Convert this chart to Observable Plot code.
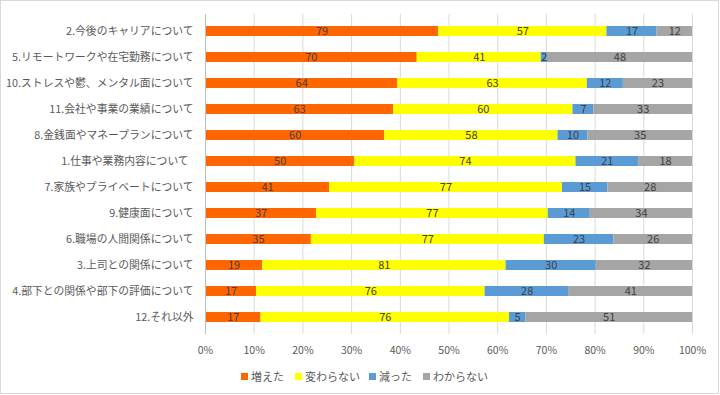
<!DOCTYPE html>
<html>
<head>
<meta charset="utf-8">
<script src="https://cdn.jsdelivr.net/npm/d3@7"></script>
<script src="https://cdn.jsdelivr.net/npm/@observablehq/plot@0.6"></script>
<style>
  html, body { margin: 0; padding: 0; background: #fff; }
  #wrap { position: relative; width: 720px; height: 395px; overflow: hidden; font-family: "Noto Sans CJK JP", "Noto Sans", sans-serif; }
  #frame { position: absolute; left: 0px; top: 0px; width: 719px; height: 394px; border: 1.5px solid #d9d9d9; pointer-events: none; box-sizing: border-box; }
  #legend { position: absolute; top: 368px; left: 0; width: 720px; height: 18px; }
  .item { position: absolute; top: 0; display: flex; align-items: center; font-size: 11px; color: #595959; line-height: 16px; }
  .sw { width: 7px; height: 7px; margin-right: 3px; }
</style>
</head>
<body>
<div id="wrap"><div id="chart"></div><div id="legend"></div><div id="frame"></div></div>
<script>
const categories = [
  "2.今後のキャリアについて",
  "5.リモートワークや在宅勤務について",
  "10.ストレスや鬱、メンタル面について",
  "11.会社や事業の業績について",
  "8.金銭面やマネープランについて",
  "1.仕事や業務内容について",
  "7.家族やプライベートについて",
  "9.健康面について",
  "6.職場の人間関係について",
  "3.上司との関係について",
  "4.部下との関係や部下の評価について",
  "12.それ以外"
];
const seriesNames = ["増えた", "変わらない", "減った", "わからない"];
const seriesColors = ["#FF6600", "#FFFF00", "#5B9BD5", "#A5A5A5"];
const increased = [79, 70, 64, 63, 60, 50, 41, 37, 35, 19, 17, 17];
const unchanged = [57, 41, 63, 60, 58, 74, 77, 77, 77, 81, 76, 76];
const decreased = [17, 2, 12, 7, 10, 21, 15, 14, 23, 30, 28, 5];
const unknown   = [12, 48, 23, 33, 35, 18, 28, 34, 26, 32, 41, 51];
const xTicks = [0, 0.1, 0.2, 0.3, 0.4, 0.5, 0.6, 0.7, 0.8, 0.9, 1];

const seriesValues = [increased, unchanged, decreased, unknown];
const data = [];
categories.forEach((c, i) => {
  seriesNames.forEach((s, j) => data.push({cat: c, series: s, value: seriesValues[j][i]}));
});

const stackOpts = {offset: "normalize", x: "value", y: "cat", z: "series", order: seriesNames};

const chart = Plot.plot({
  width: 720,
  height: 362,
  marginLeft: 205,
  marginRight: 28,
  marginTop: 14,
  marginBottom: 28,
  style: {fontFamily: '"Noto Sans CJK JP", "Noto Sans", sans-serif', background: "transparent"},
  x: {domain: [0, 1], ticks: xTicks, tickFormat: d3.format(".0%"), tickSize: 0, tickPadding: 12, label: null},
  y: {domain: categories, paddingInner: 0.6, paddingOuter: 0.3, tickSize: 0, tickPadding: 12, label: null,
      tickFormat: d => d.startsWith("1.") ? d + "\u00a0\u00a0" : d},
  color: {domain: seriesNames, range: seriesColors},
  marks: [
    Plot.gridX(xTicks, {stroke: "#d9d9d9", strokeOpacity: 1, strokeWidth: 1}),
    Plot.barX(data, Plot.stackX({...stackOpts, fill: "series"})),
    Plot.text(data, Plot.stackX({...stackOpts, text: d => String(d.value), fill: "#404040", fontSize: 11})),
    Plot.ruleX([0], {stroke: "#bfbfbf"})
  ]
});
const xl = chart.querySelector('g[aria-label="x-axis tick label"]');
if (xl) { xl.setAttribute("font-size", "10.5"); xl.setAttribute("fill", "#595959"); }
const yl = chart.querySelector('g[aria-label="y-axis tick label"]');
if (yl) { yl.setAttribute("font-size", "10.8"); yl.setAttribute("fill", "#595959"); }
document.getElementById("chart").appendChild(chart);

const legendX = [241, 295, 369, 423];
const leg = document.getElementById("legend");
seriesNames.forEach((s, i) => {
  const it = document.createElement("div");
  it.className = "item";
  it.style.left = legendX[i] + "px";
  const sw = document.createElement("span");
  sw.className = "sw";
  sw.style.background = seriesColors[i];
  it.appendChild(sw);
  it.appendChild(document.createTextNode(s));
  leg.appendChild(it);
});
</script>
</body>
</html>
